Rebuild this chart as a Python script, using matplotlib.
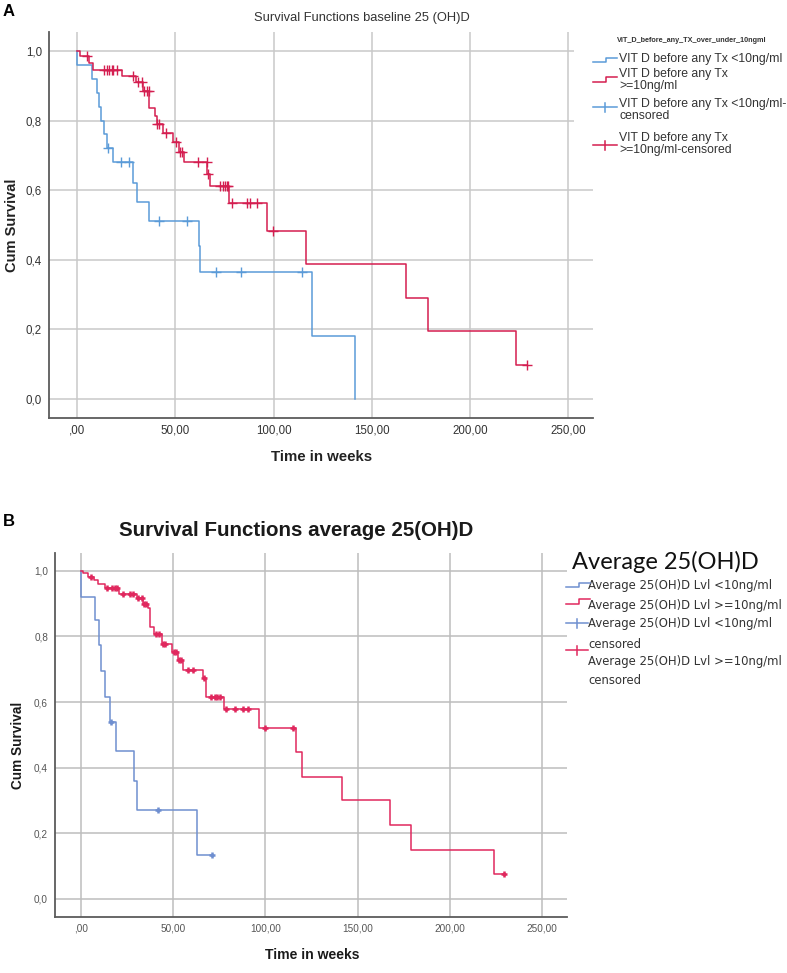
import numpy as np
import matplotlib.pyplot as plt
from matplotlib.lines import Line2D
from matplotlib.patches import Rectangle

W, H = 787, 973

# ---- data ----
xticks = [0, 50, 100, 150, 200, 250]
xticklabels = [',00', '50,00', '100,00', '150,00', '200,00', '250,00']
yticks = [0.0, 0.2, 0.4, 0.6, 0.8, 1.0]
yticklabels = ['0,0', '0,2', '0,4', '0,6', '0,8', '1,0']

# panel A: baseline 25(OH)D
a_low_t = [0, 7.5, 10, 11.2, 12.5, 13.7, 15.4, 18.5, 28.3, 30.4, 36.6, 61.9, 62.6, 119.4, 141.4]
a_low_s = [0.96, 0.92, 0.88, 0.84, 0.80, 0.76, 0.72, 0.68, 0.62, 0.565, 0.51, 0.44, 0.363, 0.18, 0.0]
a_low_c = [15.6, 22.2, 26.6, 41.7, 55.8, 70.7, 83.4, 114.3]
a_high_t = [1.5, 6.3, 8.3, 22.9, 30, 33.4, 36.8, 39.7, 40.5, 43.9, 49, 51.7, 54.4, 66.3, 67.6,
            77.5, 96.5, 116.5, 167.3, 178.4, 223.3]
a_high_s = [0.985, 0.966, 0.947, 0.928, 0.911, 0.886, 0.835, 0.812, 0.79, 0.763, 0.737, 0.711,
            0.68, 0.646, 0.612, 0.564, 0.483, 0.387, 0.29, 0.193, 0.097]
a_high_c = [5.2, 13.9, 15.1, 16.3, 17.6, 18.5, 20.5, 28.6, 31.2, 32.9, 34.1, 35.5, 36.5, 40.8,
            41.8, 45.1, 50.4, 52.4, 53.7, 61.7, 66, 66.8, 72.8, 74.2, 75.4, 76.3, 77.1, 79,
            86.7, 88, 91.4, 99.5, 228.7]

# panel B: average 25(OH)D
b_low_t = [0, 7.7, 9.9, 10.8, 13.2, 15.9, 19.1, 29, 30.7, 62.8]
b_low_s = [0.92, 0.85, 0.775, 0.695, 0.615, 0.54, 0.45, 0.36, 0.27, 0.135]
b_low_c = [16.2, 42, 71.1]
b_high_t = [1.4, 4.1, 7.4, 9.5, 13.3, 20.9, 30.3, 33.6, 36.2, 37.5, 39.7, 43.9, 49.3, 52.9,
            55.6, 66.1, 67.9, 77.6, 96.6, 116.5, 119.7, 141.4, 167.6, 179, 223.9]
b_high_s = [0.992, 0.982, 0.972, 0.96, 0.947, 0.93, 0.916, 0.90, 0.886, 0.83, 0.806, 0.778,
            0.752, 0.727, 0.698, 0.673, 0.614, 0.579, 0.522, 0.449, 0.373, 0.30, 0.224, 0.15, 0.077]
b_high_c = [5.4, 14.3, 16.8, 18.6, 19.9, 23.1, 26.7, 28.5, 31.2, 33, 34.3, 35.5, 40.8, 42.5,
            44.8, 45.8, 50.5, 51.7, 53.5, 54.5, 58.4, 61, 66.6, 70.5, 73, 73.8, 75.3, 78.5,
            83.6, 87.8, 90.8, 99.8, 114.8, 229.3]

legA_title = 'VIT_D_before_any_TX_over_under_10ngml'
legA_items = ['VIT D before any Tx <10ng/ml', 'VIT D before any Tx\n>=10ng/ml',
              'VIT D before any Tx <10ng/ml-\ncensored', 'VIT D before any Tx\n>=10ng/ml-censored']
legB_title = 'Average 25(OH)D'
legB_lines = ['Average 25(OH)D Lvl <10ng/ml', 'Average 25(OH)D Lvl >=10ng/ml',
              'Average 25(OH)D Lvl <10ng/ml', 'censored',
              'Average 25(OH)D Lvl >=10ng/ml', 'censored']

BLUE_A, RED_A = '#5b9bd8', '#d41e50'
BLUE_B, RED_B = '#6f8fd0', '#e0285e'


def fx(px):
    return px / W


def fy(py):
    return 1 - py / H


def km(ax, t, s, c, color, lw, ms, mew):
    end = max(t[-1], max(c))
    x = [0] + t + [end]
    y = [1.0] + s + [s[-1]]
    ax.step(x, y, where='post', color=color, lw=lw, zorder=3)
    idx = np.searchsorted(t, c, side='right') - 1
    cy = [1.0 if i < 0 else s[i] for i in idx]
    ax.plot(c, cy, ls='none', marker='+', color=color, ms=ms, mew=mew, zorder=4)


def style(ax, xlim, ylim, grid, fs, tcol):
    ax.set_xlim(*xlim)
    ax.set_ylim(*ylim)
    ax.set_xticks(xticks)
    ax.set_xticklabels(xticklabels)
    ax.set_yticks(yticks)
    ax.set_yticklabels(yticklabels)
    ax.grid(True, color=grid, lw=1.1)
    ax.set_axisbelow(True)
    for sp in ['top', 'right']:
        ax.spines[sp].set_visible(False)
    for sp in ['left', 'bottom']:
        ax.spines[sp].set_color('#5c5c5c')
        ax.spines[sp].set_linewidth(1.3)
    ax.tick_params(length=0, labelsize=fs, colors=tcol, pad=5)
    for lab in ax.get_xticklabels() + ax.get_yticklabels():
        lab.set_fontfamily('Liberation Sans')


def fline(xs, ys, color, lw=1.1):
    fig.add_artist(Line2D([fx(v) for v in xs], [fy(v) for v in ys], color=color, lw=lw,
                          transform=fig.transFigure, zorder=6))


def step_icon(x0, ylow, yhigh, color):
    fline([x0, x0 + 13, x0 + 13, x0 + 24], [ylow, ylow, yhigh, yhigh], color)


def cens_icon(x0, yc, color, w=24, tick=4.5):
    fline([x0, x0 + w], [yc, yc], color)
    fline([x0 + w / 2, x0 + w / 2], [yc - tick, yc + tick], color)


fig = plt.figure(figsize=(W / 100, H / 100), dpi=100)

# ---------------- panel A ----------------
axA = fig.add_axes([fx(49), fy(418), (593 - 49) / W, (418 - 32) / H])
style(axA, (-14.2, 262.5), (-0.056, 1.055), '#c9c9c9', 8.3, '#333333')
km(axA, a_low_t, a_low_s, a_low_c, BLUE_A, 1.1, 7, 1.0)
km(axA, a_high_t, a_high_s, a_high_c, RED_A, 1.1, 7, 1.0)

fig.text(fx(3), fy(12), 'A', fontsize=12, fontweight='bold', family='Liberation Sans',
         va='center', ha='left')
fig.text(fx(362), fy(18), 'Survival Functions baseline 25 (OH)D', fontsize=9.3,
         family='Liberation Sans', color='#333333', ha='center', va='center')
fig.text(fx(322), fy(457), 'Time in weeks', fontsize=10.8, fontweight='bold',
         family='Liberation Sans', color='#222222', ha='center', va='center')
fig.text(fx(12), fy(225), 'Cum Survival', fontsize=10.5, fontweight='bold',
         family='Liberation Sans', color='#222222', ha='center', va='center', rotation=90)

# legend A
fig.add_artist(Rectangle((fx(574), fy(162)), fx(787) - fx(574), fy(28) - fy(162),
                         transform=fig.transFigure, facecolor='white', edgecolor='none', zorder=5))
fig.text(fx(692), fy(41), legA_title, fontsize=5.2, fontweight='bold', family='Liberation Sans',
         color='#333333', ha='center', va='center', zorder=7)
legA_y = [59, 80, 110, 144]
for i, (txt, yy) in enumerate(zip(legA_items, legA_y)):
    fig.text(fx(619), fy(yy), txt, fontsize=8.8, family='Liberation Sans', color='#333333',
             ha='left', va='center', linespacing=1.05, zorder=7)
step_icon(593, 62, 57.5, BLUE_A)
step_icon(593, 82, 77, RED_A)
cens_icon(593, 107, BLUE_A)
cens_icon(593, 145, RED_A)

# ---------------- panel B ----------------
axB = fig.add_axes([fx(55), fy(917), (567 - 55) / W, (917 - 553) / H])
style(axB, (-13.9, 263.4), (-0.055, 1.054), '#bdbdbd', 7.2, '#555555')
km(axB, b_low_t, b_low_s, b_low_c, BLUE_B, 1.1, 5, 1.8)
km(axB, b_high_t, b_high_s, b_high_c, RED_B, 1.1, 5, 1.8)

fig.text(fx(3), fy(522), 'B', fontsize=12, fontweight='bold', family='Liberation Sans',
         va='center', ha='left')
fig.text(fx(296), fy(530), 'Survival Functions average 25(OH)D', fontsize=14.8, fontweight='bold',
         family='Liberation Sans', color='#1a1a1a', ha='center', va='center')
fig.text(fx(312), fy(955), 'Time in weeks', fontsize=10.1, fontweight='bold',
         family='Liberation Sans', color='#1a1a1a', ha='center', va='center')
fig.text(fx(18), fy(745), 'Cum Survival', fontsize=9.8, fontweight='bold',
         family='Liberation Sans', color='#1a1a1a', ha='center', va='center', rotation=90)

# legend B
fig.text(fx(572), fy(562), legB_title, fontsize=17, family='Lato', color='#111111',
         ha='left', va='center')
legB_y = [586, 605, 624, 644, 662, 680]
for txt, yy in zip(legB_lines, legB_y):
    fig.text(fx(588), fy(yy), txt, fontsize=8.4, family='DejaVu Sans', color='#333333',
             ha='left', va='center')
step_icon(566, 587, 582.5, BLUE_B)
step_icon(566, 604, 599, RED_B)
cens_icon(566, 623, BLUE_B, w=22)
cens_icon(566, 650, RED_B, w=22)

fig.savefig('out.png', dpi=100)
